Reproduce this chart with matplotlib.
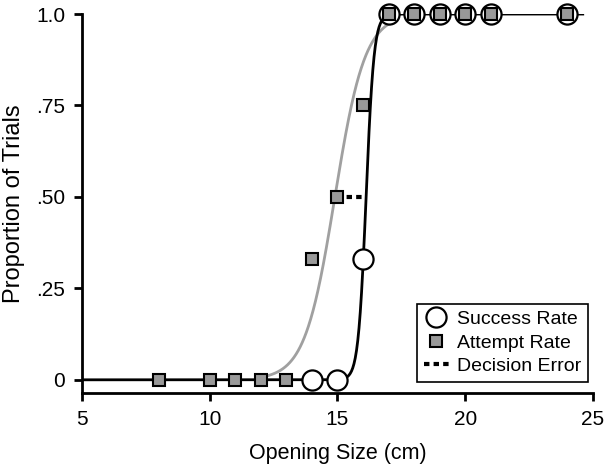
import numpy as np
import matplotlib
matplotlib.use("Agg")
import matplotlib.pyplot as plt
from matplotlib.lines import Line2D

plt.rcParams['font.family'] = ['Liberation Sans', 'DejaVu Sans']

# datos
success_x = [14, 15, 16, 17, 18, 19, 20, 21, 24]
success_y = [0, 0, 0.33, 1, 1, 1, 1, 1, 1]
attempt_x = [8, 10, 11, 12, 13, 14, 15, 16, 17, 18, 19, 20, 21, 24]
attempt_y = [0, 0, 0, 0, 0, 0.33, 0.50, 0.75, 1, 1, 1, 1, 1, 1]

# parametros de las curvas logisticas ajustadas (estimados)
success_mid, success_slope = 16.12, 6.5
attempt_mid, attempt_slope = 14.9, 1.7

# error de decision: de 15 a 16 en 0.5
error_x = [15, 16]
error_y = [0.5, 0.5]

xticks = [5, 10, 15, 20, 25]
yticks = [0, 0.25, 0.5, 0.75, 1.0]
ytick_labels = ['0', '.25', '.50', '.75', '1.0']


def logistica(x, mid, slope):
    return 1.0 / (1.0 + np.exp(-slope * (x - mid)))


fig = plt.figure(figsize=(6.06, 4.68), dpi=100)
ax = fig.add_axes([0.1353, 0.1603, 0.8432, 0.8097])

xs = np.linspace(5, 24.6, 800)
xs_g = np.linspace(12.0, 17.3, 400)
ax.plot(xs_g, logistica(xs_g, attempt_mid, attempt_slope), color='#a0a0a0',
        lw=2, zorder=2, solid_capstyle='butt')
ax.plot(xs, logistica(xs, success_mid, success_slope), color='black',
        lw=2, zorder=3)
ax.plot(error_x, error_y, color='black', lw=3, dashes=(1.3, 1.0), zorder=3)

ax.plot(success_x, success_y, 'o', ms=14.5, mfc='white', mec='black',
        mew=1.6, zorder=4, clip_on=False, ls='none')
ax.plot(attempt_x, attempt_y, 's', ms=8.5, mfc='#999999', mec='black',
        mew=1.5, zorder=5, clip_on=False, ls='none')

ax.set_xlim(5, 25)
ax.set_ylim(-0.036, 1.0)
ax.set_xticks(xticks)
ax.set_yticks(yticks)
ax.set_yticklabels(ytick_labels)
ax.spines['top'].set_visible(False)
ax.spines['right'].set_visible(False)
for s in ['left', 'bottom']:
    ax.spines[s].set_linewidth(2)
ax.tick_params(axis='both', direction='out', width=2, length=6,
               labelsize=15, pad=6)

ax.set_xlabel('Opening Size (cm)', fontsize=15.5, labelpad=10)
ax.set_ylabel('Proportion of Trials', fontsize=17, labelpad=8)

handles = [
    Line2D([], [], marker='o', ls='none', ms=14.5, mfc='white', mec='black', mew=1.6),
    Line2D([], [], marker='s', ls='none', ms=8.5, mfc='#999999', mec='black', mew=1.5),
    Line2D([], [], color='black', lw=3, dashes=(1.3, 1.0)),
]
leg = ax.legend(handles, ['Success Rate', 'Attempt Rate', 'Decision Error'],
                loc='lower right', bbox_to_anchor=(0.99, 0.029),
                borderaxespad=0, fontsize=14, fancybox=False,
                edgecolor='black', framealpha=1, handlelength=1.3,
                handletextpad=0.4, labelspacing=0.3, borderpad=0.35)
leg.get_frame().set_linewidth(1.2)
leg.set_zorder(10)

fig.savefig('out.png', dpi=100)
